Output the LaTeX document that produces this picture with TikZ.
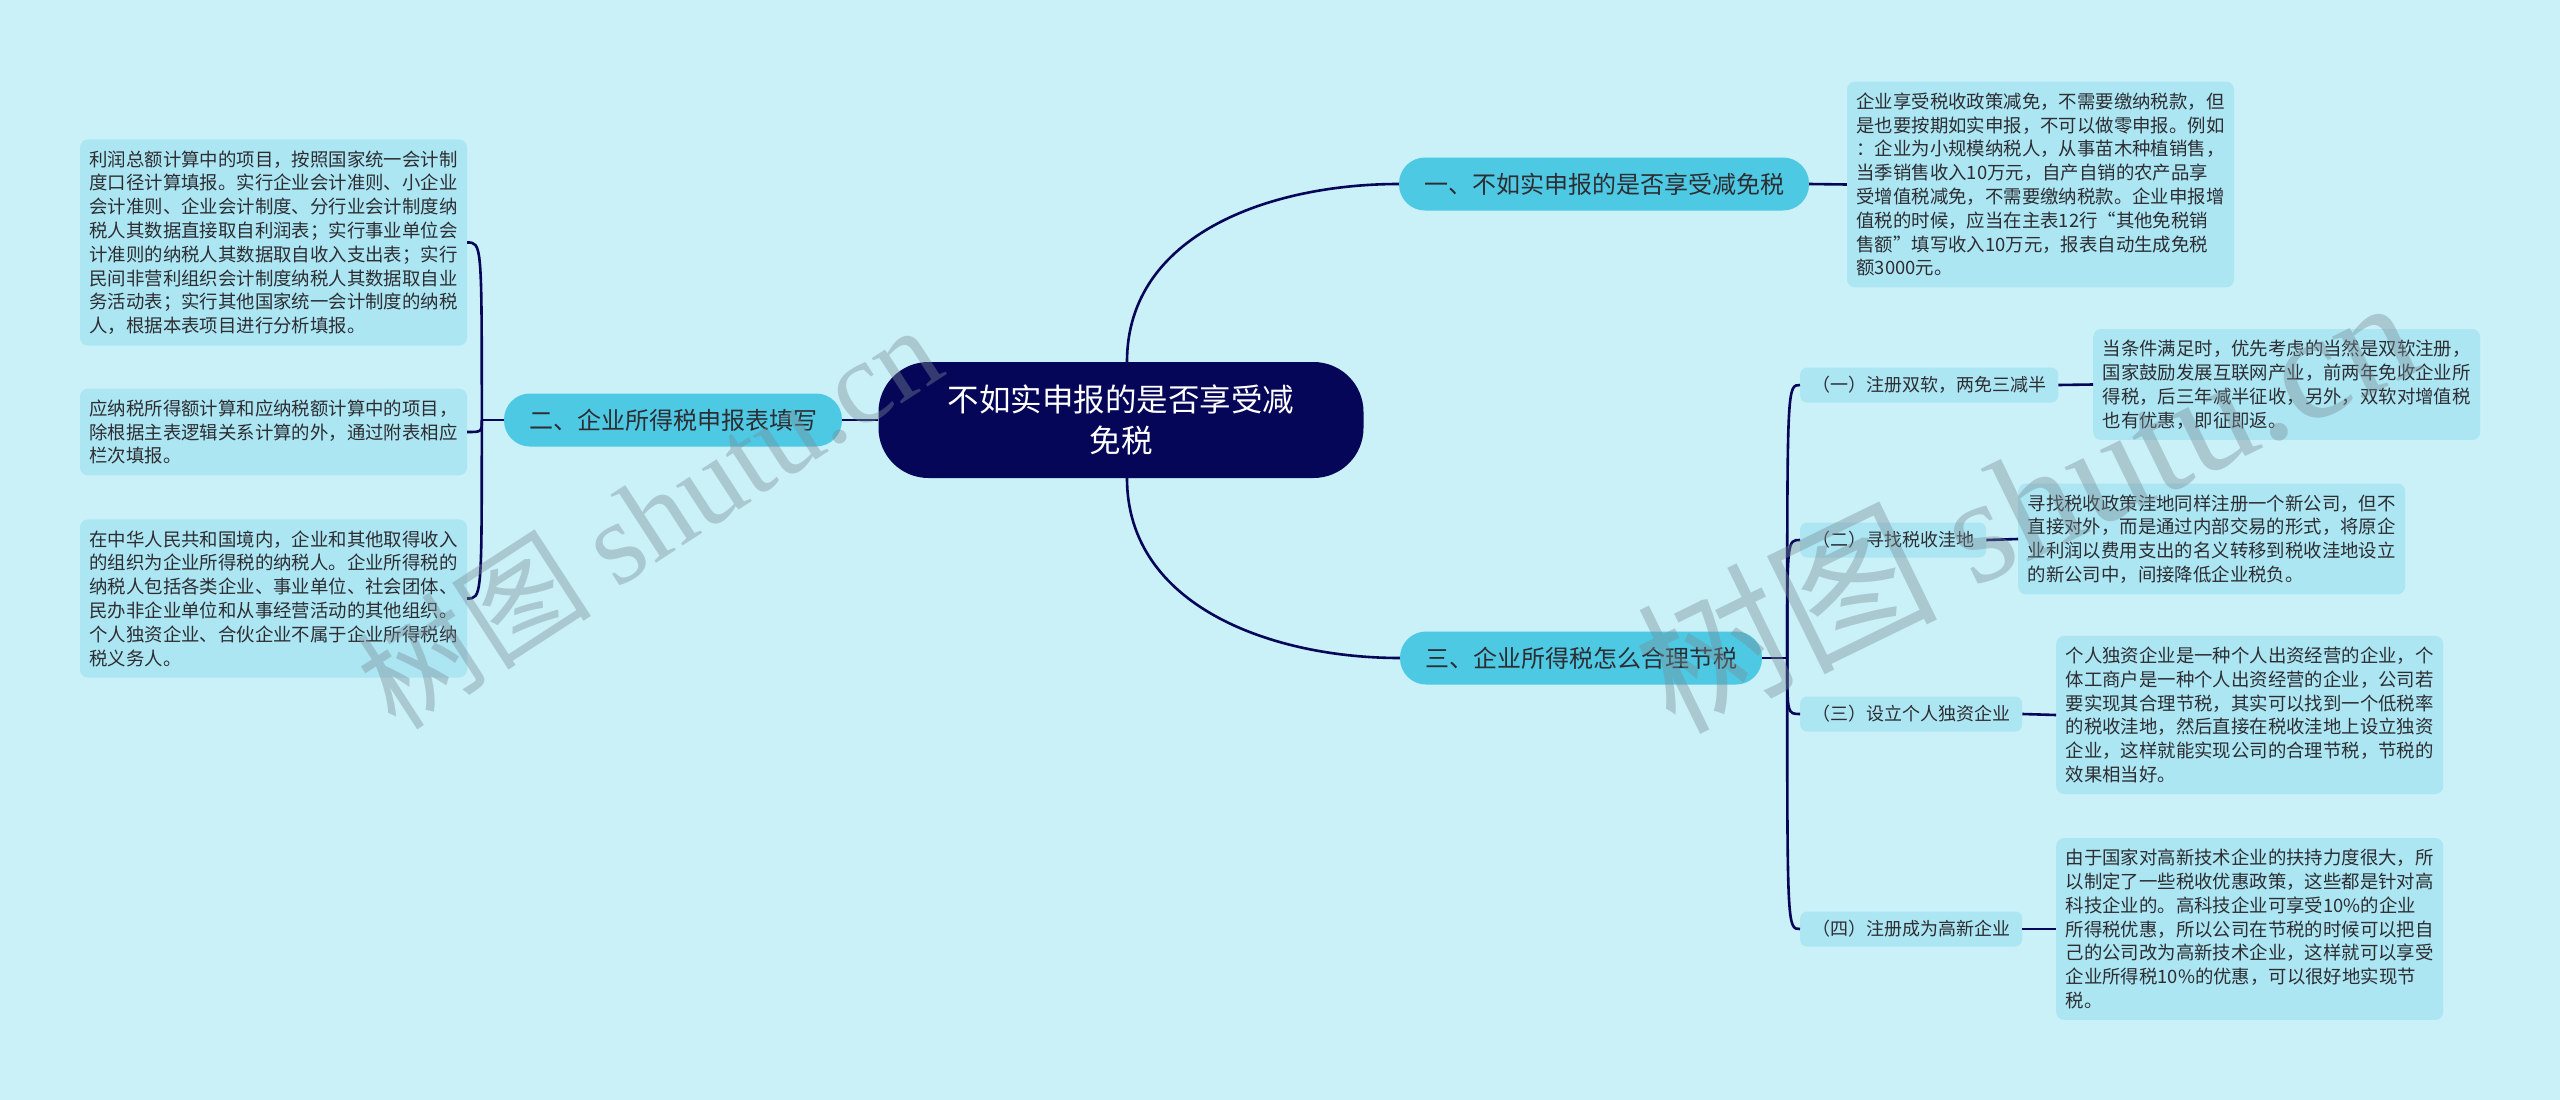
\documentclass[tikz,border=0pt]{standalone}
\usepackage{fontspec}
\setmainfont{Noto Sans CJK SC}
\newfontfamily\wmfont{Liberation Serif}
\definecolor{bg}{RGB}{202,240,248}
\definecolor{leafc}{RGB}{172,230,243}
\definecolor{brc}{RGB}{77,201,228}
\definecolor{navy}{RGB}{6,6,88}
\definecolor{txt}{RGB}{45,45,50}
\definecolor{wm}{RGB}{120,140,150}
\tikzset{
  conn/.style={draw=navy, line width=2.6pt},
  leaf/.style={fill=leafc, rounded corners=8pt, text=txt, font=\fontsize{18.4}{23.8}\selectfont, align=left, text width=368pt, inner xsep=9.5pt, inner ysep=11pt},
  branch/.style={fill=brc, rounded corners=26pt, minimum height=53pt, inner xsep=25pt, font=\fontsize{24}{28}\selectfont, text=txt},
  sub/.style={fill=leafc, rounded corners=7pt, minimum height=35pt, inner xsep=12pt, font=\fontsize{18}{22}\selectfont, text=txt},
  root/.style={fill=navy, rounded corners=50pt, minimum width=485pt, minimum height=116pt, text=white, align=center, font=\fontsize{31.5}{41}\selectfont},
  wmark/.style={text=wm, opacity=0.4}
}
\begin{document}
\begin{tikzpicture}[x=1pt,y=-1pt]
\fill[bg] (0,0) rectangle (2560,1100);
\useasboundingbox (0,0) rectangle (2560,1100);

\node[root] (root) at (1121,420) {不如实申报的是否享受减\\免税};

\node[branch] (b1) at (1604,184) {一、不如实申报的是否享受减免税};
\node[branch] (b2) at (673,420) {二、企业所得税申报表填写};
\node[branch] (b3) at (1581,658) {三、企业所得税怎么合理节税};

\node[leaf] (r0) at (2040.5,184.5) {企业享受税收政策减免，不需要缴纳税款，但\\是也要按期如实申报，不可以做零申报。例如\\：企业为小规模纳税人，从事苗木种植销售，\\当季销售收入10万元，自产自销的农产品享\\受增值税减免，不需要缴纳税款。企业申报增\\值税的时候，应当在主表12行“其他免税销\\售额”填写收入10万元，报表自动生成免税\\额3000元。};

\node[leaf] (la) at (273.5,242.5) {利润总额计算中的项目，按照国家统一会计制\\度口径计算填报。实行企业会计准则、小企业\\会计准则、企业会计制度、分行业会计制度纳\\税人其数据直接取自利润表；实行事业单位会\\计准则的纳税人其数据取自收入支出表；实行\\民间非营利组织会计制度纳税人其数据取自业\\务活动表；实行其他国家统一会计制度的纳税\\人，根据本表项目进行分析填报。};
\node[leaf] (lb) at (273.5,432) {应纳税所得额计算和应纳税额计算中的项目，\\除根据主表逻辑关系计算的外，通过附表相应\\栏次填报。};
\node[leaf] (lc) at (273.5,598.5) {在中华人民共和国境内，企业和其他取得收入\\的组织为企业所得税的纳税人。企业所得税的\\纳税人包括各类企业、事业单位、社会团体、\\民办非企业单位和从事经营活动的其他组织。\\个人独资企业、合伙企业不属于企业所得税纳\\税义务人。};

\node[sub, anchor=west] (c1) at (1800,385) {（一）注册双软，两免三减半};
\node[sub, anchor=west] (c2) at (1800,540) {（二）寻找税收洼地};
\node[sub, anchor=west] (c3) at (1800,714) {（三）设立个人独资企业};
\node[sub, anchor=west] (c4) at (1800,929) {（四）注册成为高新企业};

\node[leaf, anchor=west] (r1) at (2093,384.5) {当条件满足时，优先考虑的当然是双软注册，\\国家鼓励发展互联网产业，前两年免收企业所\\得税，后三年减半征收，另外，双软对增值税\\也有优惠，即征即返。};
\node[leaf, anchor=west] (r2) at (2018,539) {寻找税收政策洼地同样注册一个新公司，但不\\直接对外，而是通过内部交易的形式，将原企\\业利润以费用支出的名义转移到税收洼地设立\\的新公司中，间接降低企业税负。};
\node[leaf, anchor=west] (r3) at (2056,715) {个人独资企业是一种个人出资经营的企业，个\\体工商户是一种个人出资经营的企业，公司若\\要实现其合理节税，其实可以找到一个低税率\\的税收洼地，然后直接在税收洼地上设立独资\\企业，这样就能实现公司的合理节税，节税的\\效果相当好。};
\node[leaf, anchor=west] (r4) at (2056,929) {由于国家对高新技术企业的扶持力度很大，所\\以制定了一些税收优惠政策，这些都是针对高\\科技企业的。高科技企业可享受10\%的企业\\所得税优惠，所以公司在节税的时候可以把自\\己的公司改为高新技术企业，这样就可以享受\\企业所得税10\%的优惠，可以很好地实现节\\税。};

% connectors
\draw[conn] ([xshift=6pt]root.north) .. controls +(0,-128) and +(-128,0) .. (b1.west);
\draw[conn] ([xshift=6pt]root.south) .. controls +(0,128) and +(-128,0) .. (b3.west);
\draw[conn] (root.west) -- (b2.east);
\draw[conn] (b1.east) -- (r0.west);

\coordinate (j2) at ([xshift=-22pt]b2.west);
\draw[conn] (b2.west) -- (j2);
\foreach \n in {la,lb,lc}
  \draw[conn] (j2) .. controls (j2 |- \n.east) and (j2 |- \n.east) .. (\n.east);

\coordinate (j3) at ([xshift=25pt]b3.east);
\draw[conn] (b3.east) -- (j3);
\foreach \n in {c1,c2,c3,c4}
  \draw[conn] (j3) .. controls (j3 |- \n.west) and (j3 |- \n.west) .. (\n.west);

\draw[conn] (c1.east) -- (r1.west);
\draw[conn] (c2.east) -- (r2.west);
\draw[conn] (c3.east) -- (r3.west);
\draw[conn] (c4.east) -- (r4.west);

% watermarks
\node[wmark, rotate=33, font=\fontsize{118}{120}\selectfont] (wm1) at (648,515) {树图 {\wmfont shutu.cn}};
\node[wmark, rotate=26, font=\fontsize{150}{155}\selectfont] (wm2) at (2025,500) {树图 {\wmfont shutu.cn}};
\end{tikzpicture}
\end{document}
